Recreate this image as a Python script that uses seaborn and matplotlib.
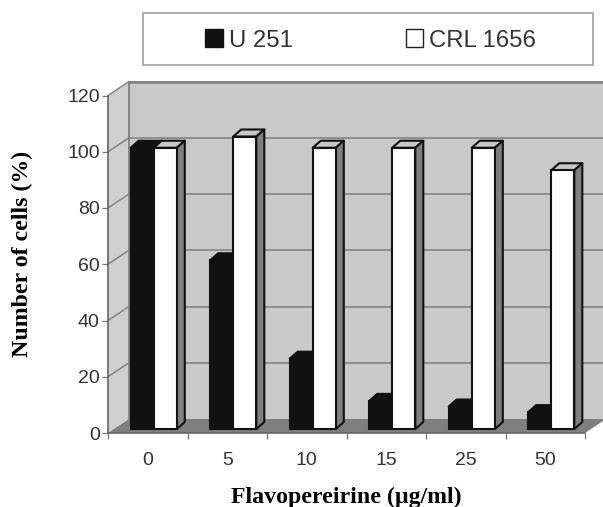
import pandas as pd
import seaborn as sns
import matplotlib.pyplot as plt
from matplotlib.patches import Polygon, Patch, Rectangle
from matplotlib.transforms import Affine2D

doses = ["0", "5", "10", "15", "25", "50"]
u251 = [100, 60, 25, 10, 8, 6]
crl1656 = [100, 104, 100, 100, 100, 92]
y_ticks = [0, 20, 40, 60, 80, 100, 120]

sns.set_theme(style="white")
plt.rcParams["font.family"] = ["Liberation Sans", "DejaVu Sans"]

W, H = 603, 507
fig = plt.figure(figsize=(W / 100, H / 100), dpi=100)
ax = fig.add_axes([108 / W, (H - 433) / H, 477 / W, 337.5 / H])
ax.patch.set_alpha(0)

df = pd.DataFrame({
    "dose": doses * 2,
    "cells": u251 + crl1656,
    "line": ["U 251"] * 6 + ["CRL 1656"] * 6,
})
sns.barplot(
    data=df, x="dose", y="cells", hue="line", order=doses,
    palette={"U 251": "#111111", "CRL 1656": "white"},
    width=0.58, gap=0, edgecolor="#111111", linewidth=1.5,
    saturation=1, legend=False, ax=ax,
)
ax.set_xlim(-0.5, 5.5)
ax.set_ylim(0, 120)


def shifted(dx, dy):
    # data coords plus a pixel shift, that is how the fake depth is done
    return ax.transData + Affine2D().translate(dx, dy)


def offset_poly(front, back, color, zorder, ec="none", lw=0):
    # front and back are pairs of (x, y, dx, dy)
    pts = [ax.transData.transform((p[0], p[1])) + (p[2], p[3]) for p in front + back]
    ax.add_patch(Polygon(pts, closed=True, transform=None, fc=color, ec=ec, lw=lw,
                         zorder=zorder, clip_on=False, joinstyle="round"))


DX, DY = 21, 14
wall = "#c9c9c9"
# back wall, side wall, floor
offset_poly([(-0.5, 0, DX, DY), (5.5, 0, DX, DY)], [(5.5, 120, DX, DY), (-0.5, 120, DX, DY)], wall, 0.1)
offset_poly([(-0.5, 0, 0, 0), (-0.5, 0, DX, DY)], [(-0.5, 120, DX, DY), (-0.5, 120, 0, 0)], "#cfcfcf", 0.1)
offset_poly([(-0.5, 0, 0, 0), (5.5, 0, 0, 0)], [(5.5, 0, DX, DY), (-0.5, 0, DX, DY)], "#7f7f7f", 0.2)

for v in y_ticks[1:]:
    ax.plot([-0.5, 5.5], [v, v], transform=shifted(DX, DY), color="#7f7f7f", lw=1.1,
            zorder=0.3, clip_on=False, solid_capstyle="butt")
    p0 = ax.transData.transform((-0.5, v))
    ax.plot([p0[0], p0[0] + DX], [p0[1], p0[1] + DY], transform=None, color="#7f7f7f",
            lw=1.0, zorder=0.3, clip_on=False)
ax.plot([-0.5, -0.5], [0, 120], transform=shifted(DX, DY), color="#7f7f7f", lw=1.3,
        zorder=0.3, clip_on=False)
ax.plot([-0.5, 5.5], [120, 120], transform=shifted(DX, DY), color="#7f7f7f", lw=1.8,
        zorder=0.3, clip_on=False)

# slide bars on to their plane and give them top and side faces
BX, BY = 6, 4
DEPTH_X, DEPTH_Y = 8, 7
for k, container in enumerate(ax.containers):
    z = 2 + k
    dark = k == 0
    for bar in container:
        bar.set_transform(shifted(BX, BY))
        bar.set_zorder(z + 0.5)
        bar.set_clip_on(False)
        x0, x1, h = bar.get_x(), bar.get_x() + bar.get_width(), bar.get_height()
        top = "#111111" if dark else "#c9c9c9"
        side = "#111111" if dark else "#7f7f7f"
        offset_poly([(x0, h, BX, BY), (x1, h, BX, BY)],
                    [(x1, h, BX + DEPTH_X, BY + DEPTH_Y), (x0, h, BX + DEPTH_X, BY + DEPTH_Y)],
                    top, z, "#111111", 1.5)
        offset_poly([(x1, 0, BX, BY), (x1, 0, BX + DEPTH_X, BY + DEPTH_Y)],
                    [(x1, h, BX + DEPTH_X, BY + DEPTH_Y), (x1, h, BX, BY)],
                    side, z, "#111111", 1.5)

sns.despine(ax=ax)
for s in ["left", "bottom"]:
    ax.spines[s].set_color("#666666")
    ax.spines[s].set_linewidth(1.2)
    ax.spines[s].set_zorder(5)

ax.set_yticks(y_ticks)
ax.set_xticks([i - 0.5 for i in range(7)])
ax.set_xticklabels([])
ax.set_xticks(range(6), doses, minor=True)
ax.tick_params(axis="both", which="major", direction="out", length=4, width=0.9,
               color="#777777", labelsize=14, labelcolor="#333333", left=True, bottom=True, pad=2)
ax.tick_params(axis="x", which="minor", length=0, pad=14, labelsize=14, labelcolor="#333333")

ax.set_xlabel("")
ax.set_ylabel("")
serif = dict(family="Liberation Serif", fontweight="bold", fontsize=17.2, color="black")
fig.text(346 / W, 1 - 497 / H, "Flavopereirine (µg/ml)", ha="center", va="center", **serif)
fig.text(22 / W, 1 - 254 / H, "Number of cells (%)", rotation=90, ha="center", va="center", **serif)

# legend box
fig.add_artist(Rectangle((143 / W, 1 - 65 / H), 450 / W, 52 / H, transform=fig.transFigure,
                         fc="white", ec="#999999", lw=1.1))
handles = [Patch(fc="#111111", ec="#111111", label="U 251"),
           Patch(fc="white", ec="#222222", label="CRL 1656")]
fig.legend(handles=handles, loc="center left", bbox_to_anchor=(205 / W, 1 - 40.5 / H), ncol=2,
           frameon=False, fontsize=17.2, handlelength=0.75, handleheight=0.75, handletextpad=0.25,
           columnspacing=4.72, borderpad=0, borderaxespad=0, labelcolor="#333333")

fig.savefig("out.png", dpi=100)
